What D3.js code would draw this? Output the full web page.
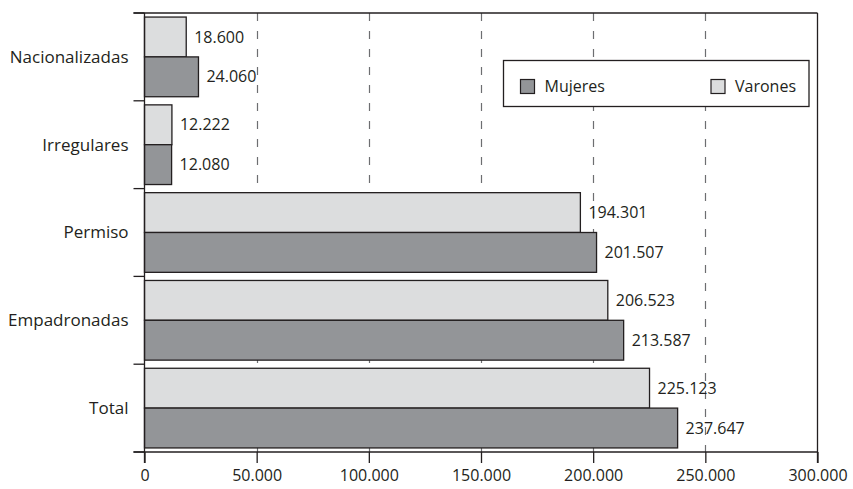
<!DOCTYPE html>
<html>
<head>
<meta charset="utf-8">
<script src="https://cdn.jsdelivr.net/npm/d3@7"></script>
<style>
  html, body { margin: 0; padding: 0; background: #fff; }
  svg text { font-family: "Open Sans", "Noto Sans", sans-serif; fill: #231f20; }
</style>
</head>
<body>
<svg id="chart" width="853" height="489"></svg>
<script>
// Población por situación administrativa, por sexo
const categories = ["Nacionalizadas", "Irregulares", "Permiso", "Empadronadas", "Total"];
const series = ["Varones", "Mujeres"];
const varones = [18600, 12222, 194301, 206523, 225123];
const mujeres = [24060, 12080, 201507, 213587, 237647];
const xTicks = [0, 50000, 100000, 150000, 200000, 250000, 300000];
const colors = { Mujeres: "#939598", Varones: "#dcddde" };

const fmt = v => d3.format(",")(v).replace(/,/g, ".");

const svg = d3.select("#chart");
const margin = { left: 144.5, right: 35.5, top: 13, bottom: 37 };
const W = 853, H = 489;
const plotW = W - margin.left - margin.right;
const plotH = H - margin.top - margin.bottom;

const x = d3.scaleLinear().domain([0, 300000]).range([margin.left, margin.left + plotW]);
const y = d3.scaleBand().domain(categories).range([margin.top, margin.top + plotH]).paddingInner(0).paddingOuter(0);
const inner = d3.scaleBand().domain(series).range([0, y.bandwidth()]).paddingOuter(0.102).paddingInner(0);

const rows = categories.map((c, i) => ({ cat: c, Varones: varones[i], Mujeres: mujeres[i] }));

// dashed vertical gridlines
svg.append("g").selectAll("line")
  .data(xTicks.filter(t => t > 0 && t < 300000))
  .join("line")
  .attr("x1", d => Math.round(x(d)) + 0.5).attr("x2", d => Math.round(x(d)) + 0.5)
  .attr("y1", margin.top).attr("y2", margin.top + plotH)
  .attr("stroke", "#6d6e71").attr("stroke-width", 1.2)
  .attr("stroke-dasharray", "8,10");

// bars
const g = svg.append("g").selectAll("g").data(rows).join("g")
  .attr("transform", d => `translate(0,${y(d.cat)})`);

g.selectAll("rect")
  .data(d => series.map(s => ({ s, v: d[s] })))
  .join("rect")
  .attr("x", x(0))
  .attr("y", d => inner(d.s))
  .attr("width", d => x(d.v) - x(0))
  .attr("height", inner.bandwidth())
  .attr("fill", d => colors[d.s])
  .attr("stroke", "#231f20").attr("stroke-width", 1.3);

g.selectAll("text")
  .data(d => series.map(s => ({ s, v: d[s] })))
  .join("text")
  .attr("x", d => x(d.v) + 8)
  .attr("y", d => inner(d.s) + inner.bandwidth() / 2)
  .attr("dy", "0.35em")
  .attr("font-size", 16)
  .text(d => fmt(d.v));

// frame: top and right edges
svg.append("line").attr("x1", margin.left - 11).attr("x2", margin.left + plotW)
  .attr("y1", margin.top).attr("y2", margin.top).attr("stroke", "#231f20").attr("stroke-width", 1.3);
svg.append("line").attr("x1", margin.left + plotW).attr("x2", margin.left + plotW)
  .attr("y1", margin.top).attr("y2", margin.top + plotH + 11).attr("stroke", "#231f20").attr("stroke-width", 1.3);

// x axis
const xAxis = svg.append("g").attr("transform", `translate(0,${margin.top + plotH})`)
  .call(d3.axisBottom(x).tickValues(xTicks).tickFormat(fmt).tickSize(11).tickPadding(7));
xAxis.select(".domain").attr("d", `M${margin.left - 11},0H${margin.left + plotW}`).attr("stroke", "#231f20").attr("stroke-width", 1.3);
xAxis.selectAll(".tick line").attr("stroke", "#231f20").attr("stroke-width", 1.3);
xAxis.selectAll("text").attr("font-size", 16).attr("fill", "#231f20").style("font-family", "'Open Sans', sans-serif");

// y axis with ticks at the category boundaries
const yAxisG = svg.append("g").attr("transform", `translate(${margin.left},0)`);
yAxisG.append("line").attr("x1", 0).attr("x2", 0)
  .attr("y1", margin.top).attr("y2", margin.top + plotH + 11)
  .attr("stroke", "#231f20").attr("stroke-width", 1.3);
const bounds = categories.map(c => y(c)).concat([margin.top + plotH]);
yAxisG.selectAll("line.b").data(bounds).join("line").attr("class", "b")
  .attr("x1", -11).attr("x2", 0).attr("y1", d => d).attr("y2", d => d)
  .attr("stroke", "#231f20").attr("stroke-width", 1.3);
yAxisG.selectAll("text").data(categories).join("text")
  .attr("x", -16).attr("y", d => y(d) + y.bandwidth() / 2)
  .attr("dy", "0.35em").attr("text-anchor", "end").attr("font-size", 17)
  .text(d => d);

// legend
const lg = svg.append("g").attr("transform", "translate(503.5,60.5)");
lg.append("rect").attr("width", 305.5).attr("height", 46).attr("fill", "#fff")
  .attr("stroke", "#231f20").attr("stroke-width", 1.3);
const items = [{ s: "Mujeres", x: 17 }, { s: "Varones", x: 207.5 }];
const li = lg.selectAll("g").data(items).join("g").attr("transform", d => `translate(${d.x},19)`);
li.append("rect").attr("width", 14).attr("height", 14)
  .attr("fill", d => colors[d.s]).attr("stroke", "#231f20").attr("stroke-width", 1.2);
li.append("text").attr("x", 24).attr("y", 7).attr("dy", "0.35em").attr("font-size", 16).text(d => d.s);
</script>
</body>
</html>
